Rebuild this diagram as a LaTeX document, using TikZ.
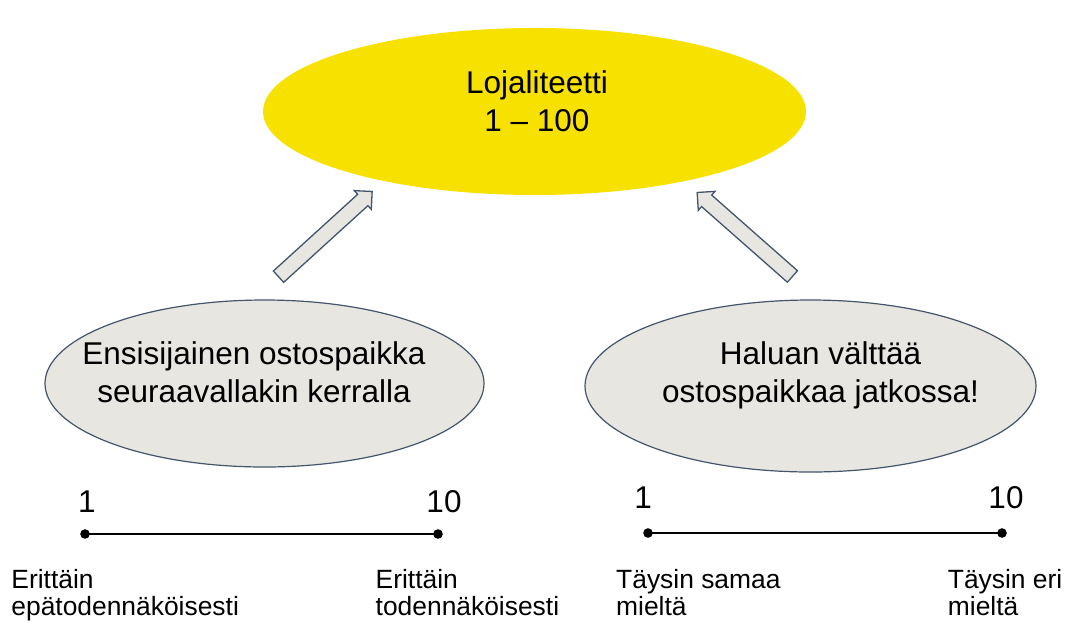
\documentclass[tikz,border=0pt]{standalone}
\usepackage{fontspec}
\setmainfont{Liberation Sans}
\usetikzlibrary{shapes.geometric,shapes.arrows,calc}
\definecolor{loyal}{HTML}{F6E100}
\definecolor{pale}{HTML}{E8E6E1}
\definecolor{slate}{HTML}{44546A}

\begin{document}
\begin{tikzpicture}[x=1pt,y=-1pt,
  big/.style={font=\fontsize{31.5}{37.5}\selectfont, align=center, anchor=base, inner sep=0},
  small/.style={font=\fontsize{26.4}{26.5}\selectfont, align=left, anchor=base west, inner sep=0},
  num/.style={font=\fontsize{31.5}{37.5}\selectfont, anchor=base, inner sep=0},
  oval/.style={ellipse, inner sep=0, fill=pale, draw=slate, line width=1.2pt},
  fat/.style={single arrow, draw=slate, fill=pale, line width=1.3pt, inner xsep=0, inner ysep=7pt,
    single arrow head extend=5pt}]
  \useasboundingbox (0,0) rectangle (1067,624);
  \node[ellipse, fill=loyal, inner sep=0, minimum width=543pt, minimum height=167pt] (loyalty) at (534.5,111.5) {};
  \node[oval, minimum width=439pt, minimum height=167pt] (first) at (264.5,383.5) {};
  \node[oval, minimum width=451pt, minimum height=172pt] (avoid) at (810.5,386) {};
  \node[big] (loyaltytxt) at (537,131) {Lojaliteetti\\1 – 100};
  \node[big] (firsttxt) at (254,402) {Ensisijainen ostospaikka\\seuraavallakin kerralla};
  \node[big] (avoidtxt) at (820.5,402) {Haluan välttää\\ostospaikkaa jatkossa!};
  \coordinate (t1) at (275.7,279.3);
  \coordinate (h1) at (369.3,194);
  \coordinate (t2) at (795.3,279);
  \coordinate (h2) at (700,195);
  \node[fat, rotate=42.3, minimum height=126.6pt] (up1) at ($(t1)!0.5!(h1)$) {};
  \node[fat, rotate=138.6, minimum height=127pt] (up2) at ($(t2)!0.5!(h2)$) {};
  \coordinate (a1) at (85,534);
  \coordinate (a10) at (438,534);
  \coordinate (b1) at (648,533);
  \coordinate (b10) at (1002,533);
  \draw[line width=2.3pt] (a1) -- (a10);
  \draw[line width=2.3pt] (b1) -- (b10);
  \fill (a1) circle(4.8);
  \fill (a10) circle(4.8);
  \fill (b1) circle(4.8);
  \fill (b10) circle(4.8);
  \node[num] (na1) at (87,512) {1};
  \node[num] (na10) at (444,512) {10};
  \node[num] (nb1) at (643,508) {1};
  \node[num] (nb10) at (1006,508) {10};
  \node[small] (unlikely) at (11.2,615) {Erittäin\\epätodennäköisesti};
  \node[small] (likely) at (375.5,615) {Erittäin\\todennäköisesti};
  \node[small] (agree) at (616,615) {Täysin samaa\\mieltä};
  \node[small] (disagree) at (947.7,615) {Täysin eri\\mieltä};
\end{tikzpicture}
\end{document}
